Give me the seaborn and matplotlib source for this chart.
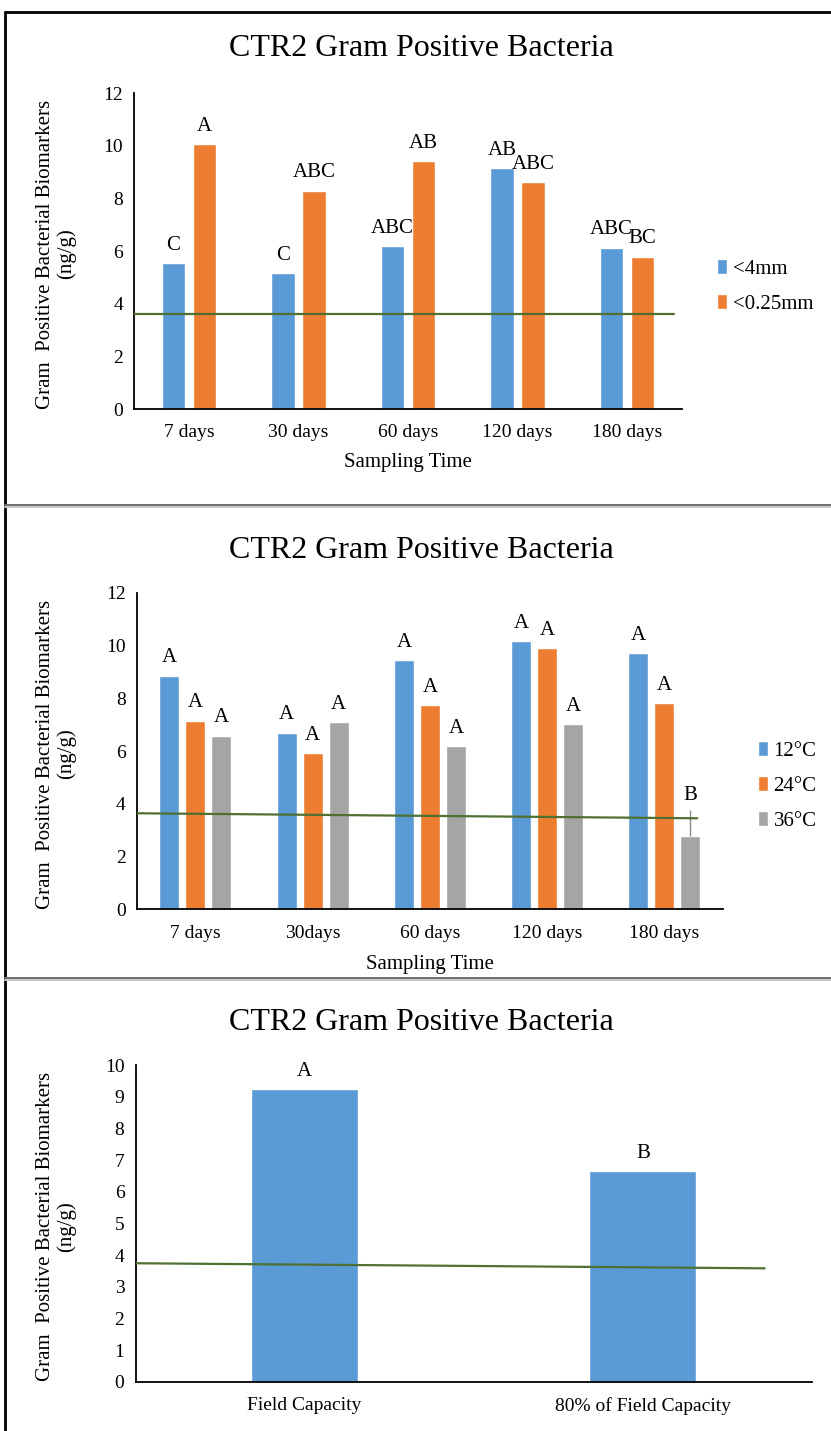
import matplotlib
matplotlib.use("Agg")
import matplotlib.pyplot as plt
from matplotlib.lines import Line2D
import seaborn as sns
import pandas as pd

# ---------------- data ----------------
title = "CTR2 Gram Positive Bacteria"
ylabel = "Gram  Positive Bacterial Biomarkers\n(ng/g)"
xlabel = "Sampling Time"

# panel 1: aggregate size
p1_times = ["7 days", "30 days", "60 days", "120 days", "180 days"]
p1_groups = ["<4mm", "<0.25mm"]
p1_4mm = [5.53, 5.15, 6.19, 9.14, 6.13]
p1_025mm = [10.05, 8.29, 9.41, 8.61, 5.79]
p1_lab_4mm = ["C", "C", "ABC", "AB", "ABC"]
p1_lab_025mm = ["A", "ABC", "AB", "ABC", "BC"]
p1_ref = [3.60, 3.60]
p1_ref_x = [-0.5, 4.43]

# panel 2: temperature
p2_times = ["7 days", "30days", "60 days", "120 days", "180 days"]
p2_groups = ["12°C", "24°C", "36°C"]
p2_12 = [8.85, 6.69, 9.45, 10.17, 9.70]
p2_24 = [7.15, 5.91, 7.74, 9.91, 7.81]
p2_36 = [6.58, 7.09, 6.19, 7.02, 2.78]
p2_36_err = [0, 0, 0, 0, 1.0]
p2_lab_12 = ["A", "A", "A", "A", "A"]
p2_lab_24 = ["A", "A", "A", "A", "A"]
p2_lab_36 = ["A", "A", "A", "A", "B"]
p2_ref = [3.64, 3.45]
p2_ref_x = [-0.5, 4.28]

# panel 3: moisture
p3_cats = ["Field Capacity", "80% of Field Capacity"]
p3_vals = [9.23, 6.65]
p3_labs = ["A", "B"]
p3_ref = [3.74, 3.58]
p3_ref_x = [-0.5, 1.36]

BLUE, ORANGE, GRAY = "#5B9BD5", "#ED7D31", "#A5A5A5"
GREEN = "#4F7030"

# ---------------- style ----------------
sns.set_theme(style="white")
plt.rcParams["font.family"] = ["Liberation Serif", "DejaVu Serif"]
plt.rcParams["text.color"] = "black"

W, H = 831, 1431
fig = plt.figure(figsize=(W / 100, H / 100), dpi=100)
fig.patch.set_facecolor("white")


def rect(left, right, top, bottom):
    return [left / W, 1 - bottom / H, (right - left) / W, (bottom - top) / H]


def fy(y):
    return 1 - y / H


def style_ax(ax, ymax, step):
    ax.set_ylim(0, ymax)
    ax.set_yticks(range(0, ymax + 1, step))
    for s in ["top", "right"]:
        ax.spines[s].set_visible(False)
    for s in ["left", "bottom"]:
        ax.spines[s].set_color("black")
        ax.spines[s].set_linewidth(1.3)
    ax.tick_params(axis="y", direction="inout", length=8, width=1.1, colors="black",
                   labelsize=14, pad=4)
    ax.tick_params(axis="x", length=0, labelsize=14, pad=11, colors="black")
    ax.set_xlabel("")
    ax.set_ylabel("")
    ax.grid(False)


def add_legend(ax, x, y):
    handles, labels = ax.get_legend_handles_labels()
    ax.legend(handles, labels, loc="center left", bbox_to_anchor=(x / W, fy(y)),
              bbox_transform=fig.transFigure, frameon=False, fontsize=15,
              handlelength=0.5, handleheight=0.7, handletextpad=0.25,
              labelspacing=0.75, borderpad=0, borderaxespad=0)


# ---------------- panel 1 ----------------
ax1 = fig.add_axes(rect(134.4, 681.7, 93, 409))
df1 = pd.DataFrame({
    "time": p1_times * 2,
    "value": p1_4mm + p1_025mm,
    "group": [p1_groups[0]] * 5 + [p1_groups[1]] * 5,
})
sns.barplot(data=df1, x="time", y="value", hue="group", palette=[BLUE, ORANGE],
            width=0.57, gap=0.25, errorbar=None, ax=ax1, saturation=1)
style_ax(ax1, 12, 2)
ax1.set_xlim(-0.5, 4.5)
for cont, labs in zip(ax1.containers, [p1_lab_4mm, p1_lab_025mm]):
    ax1.bar_label(cont, labels=labs, padding=6, fontsize=15)
ax1.plot(p1_ref_x, p1_ref, color=GREEN, lw=1.6, zorder=5)
add_legend(ax1, 717, 286.5)

# ---------------- panel 2 ----------------
ax2 = fig.add_axes(rect(136.8, 723, 592.7, 909.3))
df2 = pd.DataFrame({
    "time": p2_times * 3,
    "value": p2_12 + p2_24 + p2_36,
    "group": [p2_groups[0]] * 5 + [p2_groups[1]] * 5 + [p2_groups[2]] * 5,
})
sns.barplot(data=df2, x="time", y="value", hue="group", palette=[BLUE, ORANGE, GRAY],
            width=0.666, gap=0.23, errorbar=None, ax=ax2, saturation=1)
style_ax(ax2, 12, 2)
ax2.set_xlim(-0.5, 4.5)
conts = ax2.containers
ax2.bar_label(conts[0], labels=p2_lab_12, padding=6, fontsize=15)
ax2.bar_label(conts[1], labels=p2_lab_24, padding=6, fontsize=15)
gray_labs = [l if e == 0 else "" for l, e in zip(p2_lab_36, p2_36_err)]
ax2.bar_label(conts[2], labels=gray_labs, padding=6, fontsize=15)
for patch, v, e, lab in zip(conts[2], p2_36, p2_36_err, p2_lab_36):
    if e > 0:
        xc = patch.get_x() + patch.get_width() / 2
        ax2.errorbar([xc], [v], yerr=[[0], [e]], fmt="none", ecolor="#8c8c8c",
                     elinewidth=1, capsize=0, zorder=4)
        ax2.annotate(lab, (xc, v + e), xytext=(0, 3), textcoords="offset points",
                     ha="center", va="bottom", fontsize=15)
ax2.plot(p2_ref_x, p2_ref, color=GREEN, lw=1.6, zorder=5)
add_legend(ax2, 758, 786)

# ---------------- panel 3 ----------------
ax3 = fig.add_axes(rect(135.5, 812, 1065, 1381.7))
df3 = pd.DataFrame({"cat": p3_cats, "value": p3_vals})
sns.barplot(data=df3, x="cat", y="value", color=BLUE, width=0.316,
            errorbar=None, ax=ax3, saturation=1)
style_ax(ax3, 10, 1)
ax3.set_xlim(-0.5, 1.5)
ax3.bar_label(ax3.containers[0], labels=p3_labs, padding=6, fontsize=15)
ax3.plot(p3_ref_x, p3_ref, color=GREEN, lw=1.6, zorder=5)

# ---------------- titles / axis labels ----------------
for ty in [48, 550, 1022]:
    fig.text(421 / W, fy(ty), title, ha="center", va="center", fontsize=23)
for (top, bot) in [(93, 409), (592.7, 909.3), (1065, 1381.7)]:
    fig.text(56 / W, fy((top + bot) / 2 + 3), ylabel, rotation=90, ha="center",
             va="center", fontsize=15, multialignment="center", linespacing=1.1)
fig.text((134.4 + 681.7) / 2 / W, fy(463), xlabel, ha="center", va="center", fontsize=15)
fig.text((136.8 + 723) / 2 / W, fy(965), xlabel, ha="center", va="center", fontsize=15)

# ---------------- panel frames ----------------
fig.add_artist(Line2D([5 / W, 5 / W], [fy(12), 0], color="black", lw=2))
fig.add_artist(Line2D([5 / W, 1], [fy(12), fy(12)], color="black", lw=2))
for sy in [505, 978]:
    fig.add_artist(Line2D([5 / W, 1], [fy(sy), fy(sy)], color="#6e6e6e", lw=1.4))
    fig.add_artist(Line2D([5 / W, 1], [fy(sy + 2), fy(sy + 2)], color="#c8c8c8", lw=1.4))

fig.savefig("out.png", dpi=100, facecolor="white")
